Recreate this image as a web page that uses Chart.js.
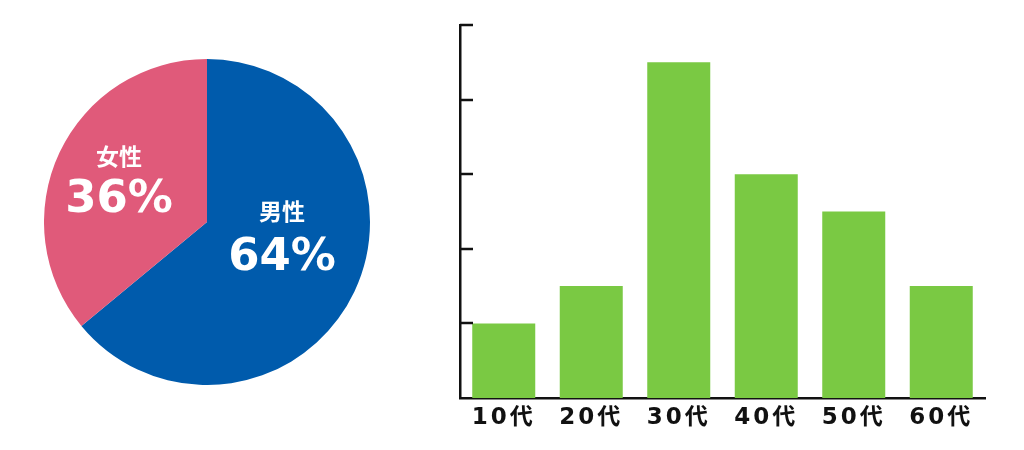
<!DOCTYPE html>
<html>
<head>
<meta charset="utf-8">
<script src="https://cdn.jsdelivr.net/npm/chart.js@4"></script>
<style>
    html, body { margin: 0; padding: 0; background: #fff; }
    body { width: 1024px; height: 450px; position: relative; overflow: hidden; }
    #pie-box { position: absolute; left: 44px; top: 59px; width: 326px; height: 326px; }
    #bar-box { position: absolute; left: 0; top: 0; width: 1024px; height: 450px; }
</style>
</head>
<body>
<div id="bar-box"><canvas id="bar" width="1024" height="450"></canvas></div>
<div id="pie-box"><canvas id="pie" width="326" height="326"></canvas></div>
<script>
const genders = ['男性', '女性'];
const genderShare = [64, 36];
const genderColors = ['#005BAC', '#E05A7A'];

const ageGroups = ['10代', '20代', '30代', '40代', '50代', '60代'];
const ageValues = [1, 1.5, 4.5, 3, 2.5, 1.5];
const yTicks = [1, 2, 3, 4, 5];

// labels inside the pie, placed relative to center / radius
const pieLabels = {
    id: 'pieLabels',
    afterDraw(chart) {
        const arc = chart.getDatasetMeta(0).data[0];
        if (!arc) return;
        const { x, y, outerRadius: r } = arc;
        const spots = [
            { dx: 0.46, dy: -0.065, dy2: 0.225 },
            { dx: -0.54, dy: -0.405, dy2: -0.135 }
        ];
        const ctx = chart.ctx;
        ctx.save();
        ctx.fillStyle = '#fff';
        ctx.textAlign = 'center';
        ctx.textBaseline = 'middle';
        genders.forEach((g, i) => {
            const s = spots[i];
            ctx.font = 'bold 23px "Noto Sans CJK JP"';
            ctx.fillText(g, x + s.dx * r, y + s.dy * r);
            ctx.font = 'bold 45px "DejaVu Sans"';
            ctx.fillText(genderShare[i] + '%', x + s.dx * r, y + s.dy2 * r);
        });
        ctx.restore();
    }
};

new Chart(document.getElementById('pie'), {
    type: 'pie',
    data: {
        labels: genders,
        datasets: [{
            data: genderShare,
            backgroundColor: genderColors,
            borderWidth: 0,
            hoverOffset: 0
        }]
    },
    options: {
        responsive: false,
        animation: false,
        layout: { padding: 0 },
        plugins: { legend: { display: false }, tooltip: { enabled: false } }
    },
    plugins: [pieLabels]
});

// short tick marks pointing into the plot area
const innerTicks = {
    id: 'innerTicks',
    beforeDraw(chart) {
        chart.ctx.letterSpacing = '3px';
    },
    afterDraw(chart) {
        const y = chart.scales.y;
        const ctx = chart.ctx;
        ctx.save();
        ctx.strokeStyle = '#111';
        ctx.lineWidth = 2.5;
        yTicks.forEach(v => {
            const py = Math.round(y.getPixelForValue(v));
            ctx.beginPath();
            ctx.moveTo(y.left, py);
            ctx.lineTo(y.left + 13, py);
            ctx.stroke();
        });
        ctx.restore();
    }
};

new Chart(document.getElementById('bar'), {
    type: 'bar',
    data: {
        labels: ageGroups,
        datasets: [{
            data: ageValues,
            backgroundColor: '#7AC943',
            categoryPercentage: 1,
            barPercentage: 0.72
        }]
    },
    options: {
        responsive: false,
        animation: false,
        layout: { padding: { left: 460, right: 39, top: 25, bottom: 0 } },
        plugins: { legend: { display: false }, tooltip: { enabled: false } },
        scales: {
            x: {
                grid: { display: false },
                border: { color: '#111', width: 2.5 },
                ticks: {
                    color: '#111',
                    padding: -2,
                    font: { family: '"DejaVu Sans", "Noto Sans CJK JP"', size: 23, weight: 'bold' }
                },
                afterFit(scale) { scale.height = 52; }
            },
            y: {
                min: 0,
                max: 5,
                ticks: { display: false, stepSize: 1 },
                grid: { display: false },
                border: { color: '#111', width: 2.5 },
                afterFit(scale) { scale.width = 0; }
            }
        }
    },
    plugins: [innerTicks]
});
</script>
</body>
</html>
